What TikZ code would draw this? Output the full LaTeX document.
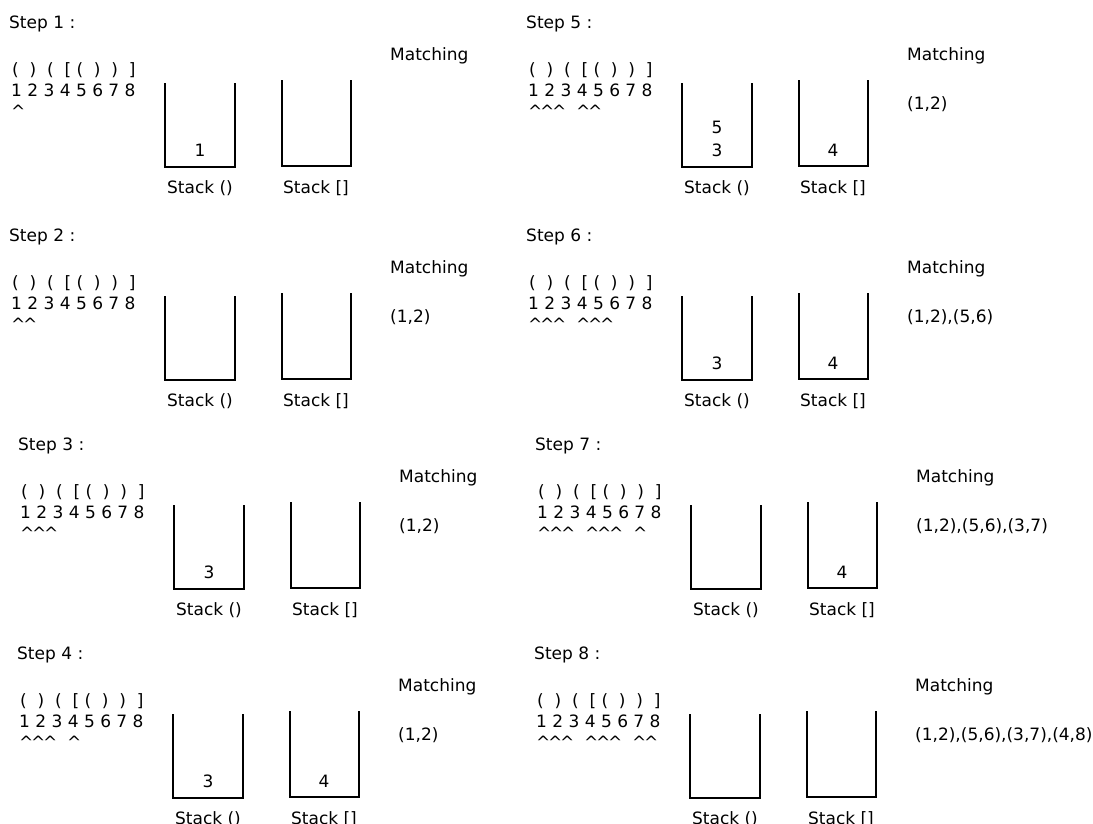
\documentclass[tikz,border=0pt]{standalone}
\usepackage{fontspec}
\setmainfont{DejaVu Sans}
\usepackage{tikz}

\tikzset{
  txt/.style={font=\fontsize{17pt}{20pt}\selectfont, inner sep=0pt},
  stackwall/.style={black, line width=1.8pt, line join=miter}
}
% the bracket string, spaced so each bracket sits over its digit
\newcommand{\bracketrow}{(\ \ )\ \ (\ \ [\ (\ \ )\ \ )\ \ ]}
% #1,#2 panel origin, #3 step, #4 carets, #5/#6 stack () bottom/top, #7 stack [], #8 matching
\newcommand{\stackstep}[8]{%
  \node[txt, anchor=base west] (step#3) at (#1+9, #2+28) {Step #3 :};
  \node[txt, anchor=base west] (brackets#3) at (#1+12, #2+75) {\bracketrow};
  \node[txt, anchor=base west] (digits#3) at (#1+11, #2+96) {1 2 3 4 5 6 7 8};
  \foreach \k in {1,...,#4}{
    \pgfmathsetmacro{\cx}{#1+11+48*int((\k-1)/3)+12*mod(\k-1,3)}
    \node[txt, anchor=base west] (caret#3-\k) at (\cx, #2+117) {\textasciicircum};
  }
  % the two stacks
  \draw[stackwall] (#1+165, #2+83) |- (#1+235, #2+167) -- (#1+235, #2+83);
  \draw[stackwall] (#1+282, #2+80) |- (#1+351, #2+166) -- (#1+351, #2+80);
  \node[txt, anchor=base] (roundlbl#3) at (#1+200, #2+193) {Stack ()};
  \node[txt, anchor=base] (squarelbl#3) at (#1+316, #2+193) {Stack []};
  \if\relax\detokenize{#5}\relax\else
    \node[txt, anchor=base] (roundbot#3) at (#1+200, #2+156) {#5};
  \fi
  \if\relax\detokenize{#6}\relax\else
    \node[txt, anchor=base] (roundtop#3) at (#1+200, #2+133.5) {#6};
  \fi
  \if\relax\detokenize{#7}\relax\else
    \node[txt, anchor=base] (squarebot#3) at (#1+316, #2+156) {#7};
  \fi
  % matched pairs so far
  \node[txt, anchor=base west] (matchlbl#3) at (#1+390, #2+60.5) {Matching};
  \if\relax\detokenize{#8}\relax\else
    \node[txt, anchor=base west] (matchlist#3) at (#1+390, #2+109) {#8};
  \fi
}

\begin{document}
\begin{tikzpicture}[x=1pt, y=-1pt]
    \useasboundingbox (0,0) rectangle (1093,823);
    % left column
        \stackstep{0}{0}{1}{1}{1}{}{}{}
        \stackstep{0}{213}{2}{2}{}{}{}{(1,2)}
        \stackstep{9}{422}{3}{3}{3}{}{}{(1,2)}
        \stackstep{8}{631}{4}{4}{3}{}{4}{(1,2)}
    % right column
        \stackstep{517}{0}{5}{5}{3}{5}{4}{(1,2)}
        \stackstep{517}{213}{6}{6}{3}{}{4}{(1,2),(5,6)}
        \stackstep{526}{422}{7}{7}{}{}{4}{(1,2),(5,6),(3,7)}
        \stackstep{525}{631}{8}{8}{}{}{}{(1,2),(5,6),(3,7),(4,8)}
\end{tikzpicture}
\end{document}
